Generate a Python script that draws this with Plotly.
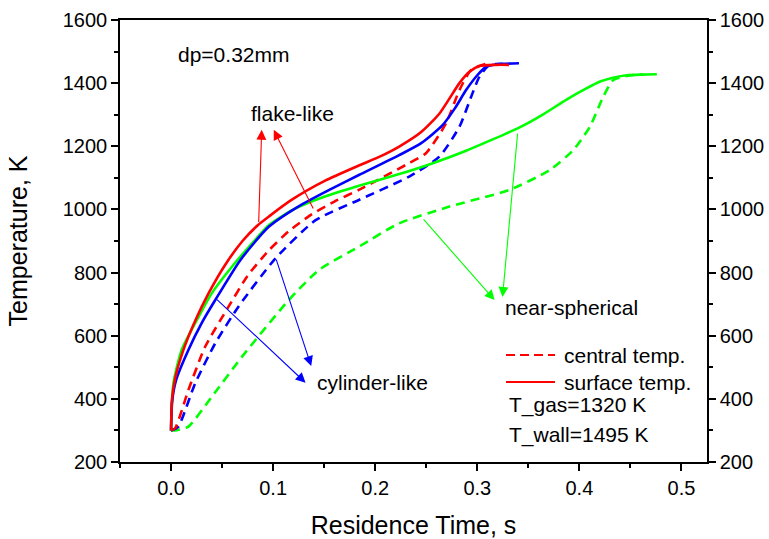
import plotly.graph_objects as go

# ---- data ----
flake_surf_t = [0, 0.001, 0.004, 0.0121, 0.024, 0.0367, 0.0531, 0.07, 0.085, 0.096, 0.118, 0.151, 0.184,
                0.205, 0.2235, 0.245, 0.263, 0.2825, 0.292, 0.302, 0.318, 0.331]
flake_surf_T = [300, 400, 465, 555, 650, 734, 825, 900, 950, 978, 1030, 1091, 1139,
                1168, 1199, 1245, 1304, 1400, 1435, 1454, 1458, 1458]

flake_cent_t = [0, 0.004, 0.017, 0.0334, 0.0563, 0.075, 0.0957, 0.115, 0.138, 0.16, 0.184, 0.23,
                0.2497, 0.2694, 0.2825, 0.294, 0.3085]
flake_cent_T = [300, 307, 428, 565, 692, 790, 870, 930, 985, 1025, 1062, 1141,
                1178, 1273, 1378, 1442, 1461]

cyl_surf_t = [0, 0.001, 0.005, 0.017, 0.03, 0.0433, 0.068, 0.0957, 0.125, 0.155, 0.184, 0.2235,
              0.245, 0.266, 0.278, 0.289, 0.3, 0.3087, 0.32, 0.3408]
cyl_surf_T = [300, 390, 460, 555, 640, 713, 840, 945, 1010, 1062, 1109, 1172,
              1210, 1267, 1320, 1378, 1425, 1452, 1460, 1463]

cyl_cent_t = [0, 0.002, 0.0072, 0.0236, 0.0433, 0.066, 0.1023, 0.1416, 0.184, 0.2333, 0.2628,
              0.2825, 0.294, 0.302, 0.3119, 0.325]
cyl_cent_T = [300, 302, 312, 449, 576, 692, 845, 966, 1030, 1104, 1167,
              1262, 1357, 1420, 1457, 1461]

sph_surf_t = [0, 0.0023, 0.0104, 0.027, 0.04, 0.06, 0.08, 0.0957, 0.12, 0.15, 0.184, 0.2235, 0.255,
              0.289, 0.3415, 0.365, 0.387, 0.405, 0.4203, 0.434, 0.4464, 0.46, 0.4759]
sph_surf_T = [300, 449, 555, 660, 735, 820, 895, 950, 1000, 1040, 1075, 1112, 1145,
              1186, 1260, 1302, 1347, 1380, 1405, 1418, 1425, 1427, 1428]

sph_cent_t = [0, 0.006, 0.017, 0.04, 0.0694, 0.1153, 0.1448, 0.184, 0.2235, 0.2727, 0.3317, 0.371,
              0.394, 0.4103, 0.4234, 0.4333, 0.4529, 0.462]
sph_cent_T = [300, 301, 312, 407, 533, 713, 808, 882, 956, 1009, 1062, 1125,
              1188, 1262, 1357, 1410, 1426, 1427]

x_range = [-0.05, 0.525]
y_range = [200, 1600]
x_ticks = [0.0, 0.1, 0.2, 0.3, 0.4, 0.5]
y_ticks = [200, 400, 600, 800, 1000, 1200, 1400, 1600]

RED, BLUE, GREEN = "#FF0000", "#0000FF", "#00FF00"
FONT = "Liberation Sans, Arial, sans-serif"
DASH = "9px,6px"

fig = go.Figure()

def add(t, T, color, dash):
    fig.add_trace(go.Scatter(x=t, y=T, mode="lines",
                             line=dict(color=color, width=2.6, dash=dash, shape="spline", smoothing=0.6),
                             showlegend=False, hoverinfo="skip"))

add(sph_cent_t, sph_cent_T, GREEN, DASH)
add(cyl_cent_t, cyl_cent_T, BLUE, DASH)
add(flake_cent_t, flake_cent_T, RED, DASH)
add(sph_surf_t, sph_surf_T, GREEN, "solid")
add(cyl_surf_t, cyl_surf_T, BLUE, "solid")
add(flake_surf_t, flake_surf_T, RED, "solid")

# invisible trace for right axis
fig.add_trace(go.Scatter(x=[x_range[0]], y=[y_range[0]], yaxis="y2", mode="markers",
                         marker=dict(opacity=0), showlegend=False, hoverinfo="skip"))

# plot area in pixels: x 120..707, y 20..462
L, R, T_, B = 120, 707, 20, 462
def px(X):
    return (X - L) / (R - L)
def py(Y):
    return 1 - (Y - T_) / (B - T_)

annotations = []
def text(s, X, Y, size=21, anchor="left"):
    annotations.append(dict(text=s, x=px(X), y=py(Y), xref="paper", yref="paper",
                            xanchor=anchor, yanchor="middle", showarrow=False,
                            font=dict(family=FONT, size=size, color="black")))

text("dp=0.32mm", 176, 55)
text("flake-like", 292, 113, anchor="center")
text("cylinder-like", 315, 382)
text("near-spherical", 503, 307)
text("central temp.", 562, 355)
text("surface temp.", 562, 382)
text("T_gas=1320 K", 507, 405)
text("T_wall=1495 K", 507, 435)

def arrow(tail, tip, color):
    annotations.append(dict(text="", x=tip[0], y=tip[1], ax=tail[0], ay=tail[1],
                            xref="x", yref="y", axref="x", ayref="y",
                            showarrow=True, arrowhead=2, arrowsize=1.8, arrowwidth=1.1,
                            arrowcolor=color, standoff=0, startstandoff=0))

arrow((0.0858, 955), (0.0888, 1252), RED)
arrow((0.140, 998), (0.1006, 1252), RED)
arrow((0.0436, 719), (0.1318, 451), BLUE)
arrow((0.1026, 846), (0.1373, 504), BLUE)
arrow((0.2461, 973), (0.3169, 713), GREEN)
arrow((0.3396, 1245), (0.3247, 723), GREEN)

shapes = [
    dict(type="line", xref="paper", yref="paper", x0=px(506), x1=px(555), y0=py(355), y1=py(355),
         line=dict(color=RED, width=2, dash="9px,5px")),
    dict(type="line", xref="paper", yref="paper", x0=px(506), x1=px(555), y0=py(382), y1=py(382),
         line=dict(color=RED, width=2)),
]

axis_common = dict(showgrid=False, zeroline=False, showline=True, linecolor="black", linewidth=1.5,
                   ticks="outside", ticklen=7, tickwidth=1.5, tickcolor="black", automargin=False,
                   tickfont=dict(family=FONT, size=20, color="black"))

fig.update_layout(
    width=769, height=539,
    margin=dict(l=L, r=769 - R, t=T_, b=539 - B),
    paper_bgcolor="white", plot_bgcolor="white",
    showlegend=False,
    xaxis=dict(range=x_range, tickvals=x_ticks, ticktext=[f"{v:.1f}" for v in x_ticks],
               mirror=True,
               minor=dict(dtick=0.05, tick0=0, ticks="outside", ticklen=4, tickwidth=1.5, tickcolor="black"),
               title=dict(text="Residence Time, s", font=dict(family=FONT, size=25, color="black"), standoff=20),
               **axis_common),
    yaxis=dict(range=y_range, tickvals=y_ticks,
               minor=dict(dtick=100, tick0=200, ticks="outside", ticklen=4, tickwidth=1.5, tickcolor="black"),
               title=dict(text="Temperature, K", font=dict(family=FONT, size=25, color="black"), standoff=28),
               **axis_common),
    yaxis2=dict(range=y_range, tickvals=y_ticks, overlaying="y", side="right",
                minor=dict(dtick=100, tick0=200, ticks="outside", ticklen=4, tickwidth=1.5, tickcolor="black"),
                **axis_common),
    annotations=annotations,
    shapes=shapes,
)

fig.write_html("out.html")
